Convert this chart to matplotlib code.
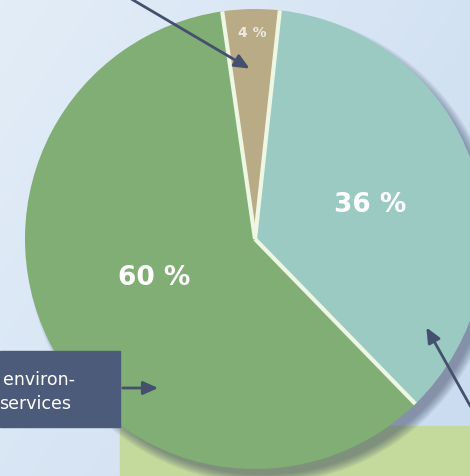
import matplotlib.pyplot as plt
import numpy as np
from matplotlib.patches import Rectangle, Circle

# slice shares (clockwise from the small top slice)
labels = ["4 %", "36 %", "60 %"]
shares = [4, 36, 60]
colors = ["#b8ab86", "#9acac2", "#80ae74"]

W, H = 470, 477
fig = plt.figure(figsize=(4.7, 4.77), dpi=100)
ax = fig.add_axes([0, 0, 1, 1])

# light blue background gradient
gx, gy = np.meshgrid(np.linspace(0, 1, 200), np.linspace(0, 1, 200))
grad = 0.6 * gx + 0.4 * gy
bg = np.zeros((200, 200, 3))
c0 = np.array([0.89, 0.93, 0.97])
c1 = np.array([0.79, 0.86, 0.94])
for i in range(3):
    bg[:, :, i] = c0[i] + (c1[i] - c0[i]) * grad
ax.imshow(bg, extent=[0, W, 0, H], origin="upper", zorder=0)

# light green box bottom right
ax.add_patch(Rectangle((120, 0), 350, 50, color="#c4da9d", zorder=1))

cx, cy, r = 255, 237, 230
start = 98.2

# soft shadow under the pie
for k in range(10):
    ax.add_patch(Circle((cx + 8, cy - 9), r + 6 - k, color="#34405c",
                        alpha=0.06, lw=0, zorder=2))

wedges, _ = ax.pie(shares, colors=colors, startangle=start, counterclock=False,
                   center=(cx, cy), radius=r, frame=True,
                   wedgeprops=dict(linewidth=0))
for w in wedges:
    w.set_zorder(3)

# white separators along the radial edges only
ang = start
for s in [0] + shares[:-1]:
    ang -= s * 3.6
    t = np.deg2rad(ang)
    ax.plot([cx, cx + r * np.cos(t)], [cy, cy + r * np.sin(t)],
            color="#eef6e4", lw=3, solid_capstyle="butt", zorder=4)

ax.set_xlim(0, W)
ax.set_ylim(0, H)
ax.set_aspect("equal")
ax.axis("off")

ax.text(252, H - 33, labels[0], color="white", fontsize=10, fontweight="bold",
        ha="center", va="center", alpha=0.75, zorder=5)
ax.text(370, H - 205, labels[1], color="white", fontsize=19, fontweight="bold",
        ha="center", va="center", zorder=5)
ax.text(154, H - 278, labels[2], color="white", fontsize=19, fontweight="bold",
        ha="center", va="center", zorder=5)

# dark label box at left
ax.add_patch(Rectangle((0, H - 428), 120, 76, color="#4d5b7b", zorder=6))
ax.text(3, H - 380, "environ-", color="white", fontsize=12.5, ha="left",
        va="center", zorder=7)
ax.text(-1, H - 404, "services", color="white", fontsize=12.5, ha="left",
        va="center", zorder=7)

arrow = dict(arrowstyle="-|>,head_length=0.9,head_width=0.4", color="#44506e",
             lw=2)
ax.annotate("", xy=(161, H - 389), xytext=(120, H - 389), arrowprops=arrow,
            zorder=7)
ax.annotate("", xy=(252, H - 71), xytext=(128, H + 2), arrowprops=arrow,
            zorder=7)
ax.annotate("", xy=(425, H - 326), xytext=(472, H - 410), arrowprops=arrow,
            zorder=7)

fig.savefig("out.png", dpi=100)
